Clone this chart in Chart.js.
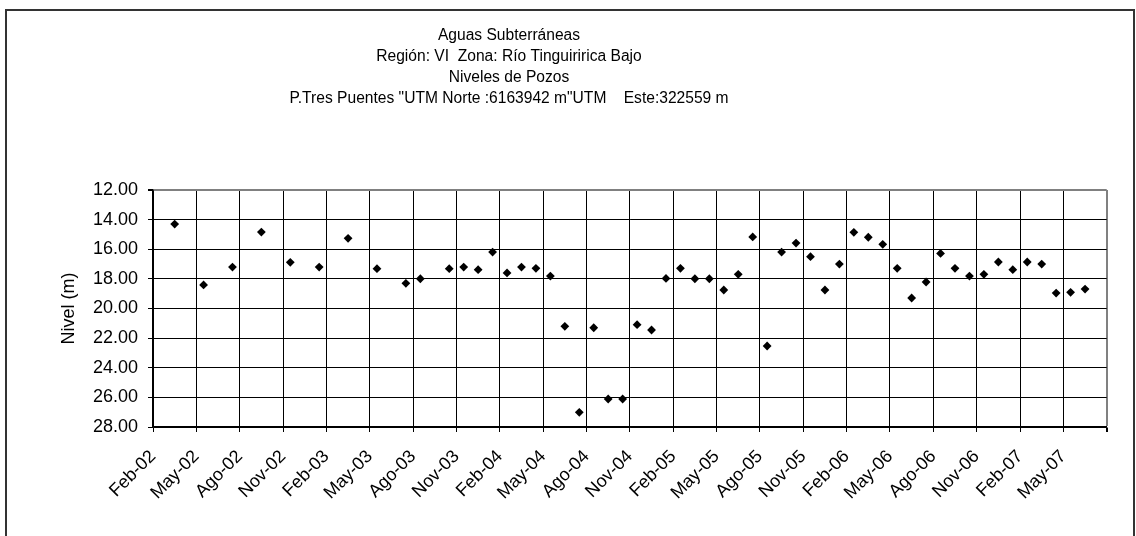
<!DOCTYPE html>
<html>
<head>
<meta charset="utf-8">
<title>Niveles de Pozos - P. Tres Puentes</title>
<script src="https://cdn.jsdelivr.net/npm/chart.js@4"></script>
<style>
  html, body { margin: 0; padding: 0; background: #fff; }
  #wrap { position: relative; width: 1136px; height: 536px; overflow: hidden; }
  #frame {
    position: absolute; left: 5px; top: 9px; width: 1130px; height: 600px;
    border: 2px solid #333; box-sizing: border-box;
  }
  #chart { position: absolute; left: 0; top: 0; }
</style>
</head>
<body>
<div id="wrap">
  <div id="frame"></div>
  <canvas id="chart" width="1136" height="536"></canvas>
</div>
<script>
// --- Data ---
const TITLE_LINES = [
    'Aguas Subterráneas',
    'Región: VI  Zona: Río Tinguiririca Bajo',
    'Niveles de Pozos',
    'P.Tres Puentes "UTM Norte :6163942 m"UTM    Este:322559 m'
];

// x axis runs in months counted from Feb-02, one label every 3 months
const TICK_LABELS = [
    'Feb-02', 'May-02', 'Ago-02', 'Nov-02',
    'Feb-03', 'May-03', 'Ago-03', 'Nov-03',
    'Feb-04', 'May-04', 'Ago-04', 'Nov-04',
    'Feb-05', 'May-05', 'Ago-05', 'Nov-05',
    'Feb-06', 'May-06', 'Ago-06', 'Nov-06',
    'Feb-07', 'May-07'
];

const FECHAS = [
    '2002-03', '2002-05', '2002-07', '2002-09', '2002-11',
    '2003-01', '2003-03', '2003-05', '2003-07', '2003-08', '2003-10', '2003-11', '2003-12',
    '2004-01', '2004-02', '2004-03', '2004-04', '2004-05', '2004-06',
    '2004-07', '2004-08', '2004-09', '2004-10', '2004-11', '2004-12',
    '2005-01', '2005-02', '2005-03', '2005-04', '2005-05', '2005-06',
    '2005-07', '2005-08', '2005-09', '2005-10', '2005-11', '2005-12',
    '2006-01', '2006-02', '2006-03', '2006-04', '2006-05', '2006-06',
    '2006-07', '2006-08', '2006-09', '2006-10', '2006-11', '2006-12',
    '2007-01', '2007-02', '2007-03', '2007-04', '2007-05', '2007-06'
];

const NIVEL = [
    14.30, 18.41, 17.20, 14.84, 16.88,
    17.20, 15.26, 17.31, 18.30, 17.99, 17.31, 17.20, 17.38,
    16.19, 17.60, 17.20, 17.29, 17.81, 21.20,
    27.01, 21.30, 26.11, 26.11, 21.09, 21.45,
    17.97, 17.29, 17.99, 17.99, 18.75, 17.69,
    15.17, 22.53, 16.19, 15.58, 16.50, 18.75,
    17.00, 14.86, 15.19, 15.67, 17.29, 19.29,
    18.21, 16.28, 17.29, 17.81, 17.69, 16.86,
    17.38, 16.86, 17.00, 18.96, 18.91, 18.69
];

const Y_MIN = 12, Y_MAX = 28, Y_STEP = 2;
const X_MAX_MONTHS = 66;

// --- Helpers ---
const FONT_FAMILY = '"Liberation Sans", Arial, sans-serif';

// months since Feb-02, placed at mid-month
function monthOffset(fecha) {
    const [y, m] = fecha.split('-').map(Number);
    return (y - 2002) * 12 + (m - 2) + 0.5;
}

const points = FECHAS.map((f, i) => ({ x: monthOffset(f), y: NIVEL[i] }));

// multi-line heading, centred a bit left of the plot centre
const headingPlugin = {
    id: 'headingLines',
    afterDraw(chart) {
        const ctx = chart.ctx;
        ctx.save();
        ctx.font = '15.6px ' + FONT_FAMILY;
        ctx.fillStyle = '#000';
        ctx.textAlign = 'center';
        ctx.textBaseline = 'middle';
        TITLE_LINES.forEach((line, i) => ctx.fillText(line, 509, 36 + i * 20.8));
        ctx.restore();
    }
};

// --- Chart ---
new Chart(document.getElementById('chart'), {
    type: 'scatter',
    data: {
        datasets: [{
            data: points,
            pointStyle: 'rectRot',
            pointRadius: 4.4,
            pointHoverRadius: 4.4,
            backgroundColor: '#000',
            borderColor: '#000',
            borderWidth: 0
        }]
    },
    options: {
        responsive: false,
        animation: false,
        layout: { padding: { left: 54, right: 29, top: 190, bottom: 0 } },
        plugins: {
            legend: { display: false },
            tooltip: { enabled: false }
        },
        scales: {
            x: {
                type: 'linear',
                position: 'bottom',
                min: 0,
                max: X_MAX_MONTHS,
                afterFit: s => { s.height = 109; },
                ticks: {
                    stepSize: 3,
                    autoSkip: false,
                    minRotation: 45,
                    maxRotation: 45,
                    padding: 14,
                    color: '#000',
                    font: { family: FONT_FAMILY, size: 18 },
                    callback: (v, i) => TICK_LABELS[i] ?? ''
                },
                grid: {
                    color: c => (c.tick && c.tick.value === X_MAX_MONTHS) ? '#808080' : '#000',
                    lineWidth: c => (c.tick && c.tick.value === X_MAX_MONTHS) ? 2 : 1,
                    tickLength: 5,
                    tickColor: '#000'
                },
                border: { color: '#000', width: 1.5 }
            },
            y: {
                type: 'linear',
                reverse: true,
                min: Y_MIN,
                max: Y_MAX,
                afterFit: s => { s.width = 99; },
                ticks: {
                    stepSize: Y_STEP,
                    padding: 10,
                    color: '#000',
                    font: { family: FONT_FAMILY, size: 18 },
                    callback: v => v.toFixed(2)
                },
                grid: {
                    color: c => (c.tick && c.tick.value === Y_MIN) ? '#808080' : '#000',
                    lineWidth: c => (c.tick && c.tick.value === Y_MIN) ? 2 : 1,
                    tickLength: 5,
                    tickColor: '#000'
                },
                border: { color: '#000', width: 1.5 },
                title: {
                    display: true,
                    text: 'Nivel (m)',
                    color: '#000',
                    font: { family: FONT_FAMILY, size: 18 }
                }
            }
        }
    },
    plugins: [headingPlugin]
});
</script>
</body>
</html>
